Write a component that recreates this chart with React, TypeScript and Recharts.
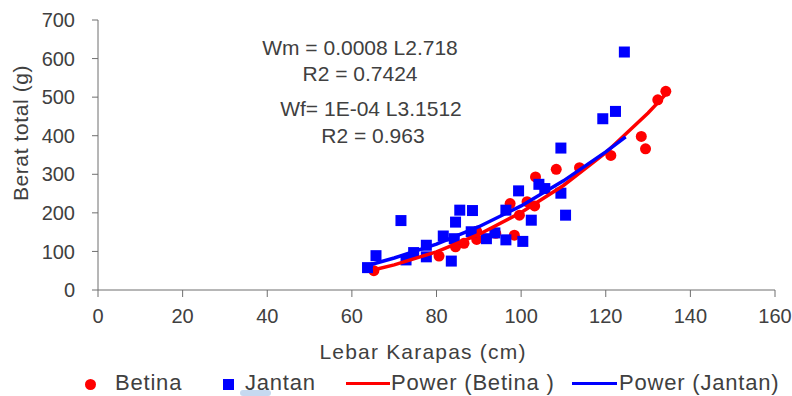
import { ScatterChart, Scatter, XAxis, YAxis, Customized } from "recharts";

// Lebar karapas (cm) vs berat total (g)
const betinaL = [65.2, 80.6, 84.5, 86.5, 89.5, 89.5, 94, 97.4, 98.4, 99.6, 101.4, 103.2, 103.4, 108.3, 113.8, 121.2, 128.4, 129.4, 132.3, 134.2];
const betinaW = [50, 88, 112, 121, 131, 152, 147, 224, 142, 194, 229, 218, 293, 313, 317, 349, 398, 366, 493, 515];

const jantanL = [63.7, 65.7, 71.6, 72.8, 74.6, 77.6, 77.6, 81.6, 83.5, 84.5, 84.2, 85.5, 88.5, 88.2, 91.8, 93.8, 96.4, 96.4, 99.4, 100.4, 102.4, 104.2, 105.6, 109.4, 109.4, 110.5, 119.3, 122.3, 124.4];
const jantanW = [58, 89, 180, 78, 97, 116, 86, 140, 75, 176, 133, 207, 206, 151, 133, 148, 130, 207, 257, 126, 181, 274, 263, 368, 251, 194, 444, 463, 617];

// garis trend (power) dibaca dari kurva
const trendBetinaL = [65, 70, 80, 90, 100, 110, 120, 130, 134.5];
const trendBetinaW = [52, 65, 99, 144, 201, 271, 356, 459, 511];
const trendJantanL = [63.5, 70, 80, 90, 100, 110, 120, 124.7];
const trendJantanW = [63, 83, 119, 164, 218, 283, 358, 397];

const xTicks = [0, 20, 40, 60, 80, 100, 120, 140, 160];
const yTicks = [0, 100, 200, 300, 400, 500, 600, 700];

const toPoints = (xs: number[], ys: number[]) => xs.map((x, i) => ({ x, y: ys[i] }));

const betina = toPoints(betinaL, betinaW);
const jantan = toPoints(jantanL, jantanW);
const trendBetina = toPoints(trendBetinaL, trendBetinaW);
const trendJantan = toPoints(trendJantanL, trendJantanW);

const FONT = "'Liberation Sans', Arial, sans-serif";
const TEXT = "#404040";
const AXIS = "#6f6f6f";

const RedDot = (p: any) => <circle cx={p.cx} cy={p.cy} r={5.5} fill="#ff0000" />;
const BlueSquare = (p: any) => (
  <rect x={p.cx - 5.5} y={p.cy - 5.5} width={11} height={11} fill="#0000ff" />
);
const NoShape = () => <g />;

const Titles = () => (
  <g fontFamily={FONT} fill={TEXT}>
    <text x={360} y={55} fontSize={21} textAnchor="middle">Wm = 0.0008 L2.718</text>
    <text x={360} y={81} fontSize={21} textAnchor="middle">R2 = 0.7424</text>
    <text x={371} y={116} fontSize={21} textAnchor="middle">Wf= 1E-04 L3.1512</text>
    <text x={373} y={143} fontSize={21} textAnchor="middle">R2 = 0.963</text>
    <text x={423} y={359} fontSize={21} textAnchor="middle" letterSpacing={1.2}>
      Lebar Karapas (cm)
    </text>
    <text x={28} y={133} fontSize={21} textAnchor="middle" letterSpacing={0.6} transform="rotate(-90 28 133)">
      Berat total (g)
    </text>
  </g>
);

export default function App() {
  const legendText = {
    position: "absolute" as const,
    top: 371,
    fontSize: 22,
    color: TEXT,
    lineHeight: "24px",
    letterSpacing: "0.8px",
  };
  return (
    <div style={{ position: "relative", width: 792, height: 396, fontFamily: FONT, background: "#fff" }}>
      <style>{"body{margin:0}"}</style>
      <ScatterChart width={792} height={396} margin={{ top: 20, right: 17, bottom: 66, left: 0 }}>
        <XAxis
          type="number"
          dataKey="x"
          domain={[0, 160]}
          ticks={xTicks}
          interval={0}
          height={40}
          tickSize={7}
          tickMargin={12}
          stroke={AXIS}
          tick={{ fill: TEXT, fontSize: 20, fontFamily: FONT }}
        />
        <YAxis
          type="number"
          dataKey="y"
          domain={[0, 700]}
          ticks={yTicks}
          interval={0}
          width={98}
          tickSize={6}
          tickMargin={17}
          stroke={AXIS}
          tick={{ fill: TEXT, fontSize: 20, fontFamily: FONT }}
        />
        <Scatter data={betina} shape={RedDot} isAnimationActive={false} />
        <Scatter data={jantan} shape={BlueSquare} isAnimationActive={false} />
        <Scatter
          data={trendBetina}
          shape={NoShape}
          line={{ stroke: "#ff0000", strokeWidth: 3.5 }}
          lineType="joint"
          isAnimationActive={false}
        />
        <Scatter
          data={trendJantan}
          shape={NoShape}
          line={{ stroke: "#0000ff", strokeWidth: 3.5 }}
          lineType="joint"
          isAnimationActive={false}
        />
        <Customized component={Titles} />
      </ScatterChart>

      {/* legenda */}
      <div style={{ position: "absolute", left: 85, top: 379, width: 11, height: 11, borderRadius: "50%", background: "#ff0000" }} />
      <div style={{ ...legendText, left: 115 }}>Betina</div>
      <div style={{ position: "absolute", left: 223, top: 379, width: 11, height: 11, background: "#0000ff" }} />
      <div style={{ position: "absolute", left: 240, top: 390, width: 31, height: 6, borderRadius: 3, background: "#c6d9f0" }} />
      <div style={{ ...legendText, left: 245 }}>Jantan</div>
      <div style={{ position: "absolute", left: 346, top: 382, width: 44, height: 3, background: "#ff0000" }} />
      <div style={{ ...legendText, left: 391 }}>Power (Betina )</div>
      <div style={{ position: "absolute", left: 572, top: 382, width: 45, height: 3, background: "#0000ff" }} />
      <div style={{ ...legendText, left: 619 }}>Power (Jantan)</div>
    </div>
  );
}
